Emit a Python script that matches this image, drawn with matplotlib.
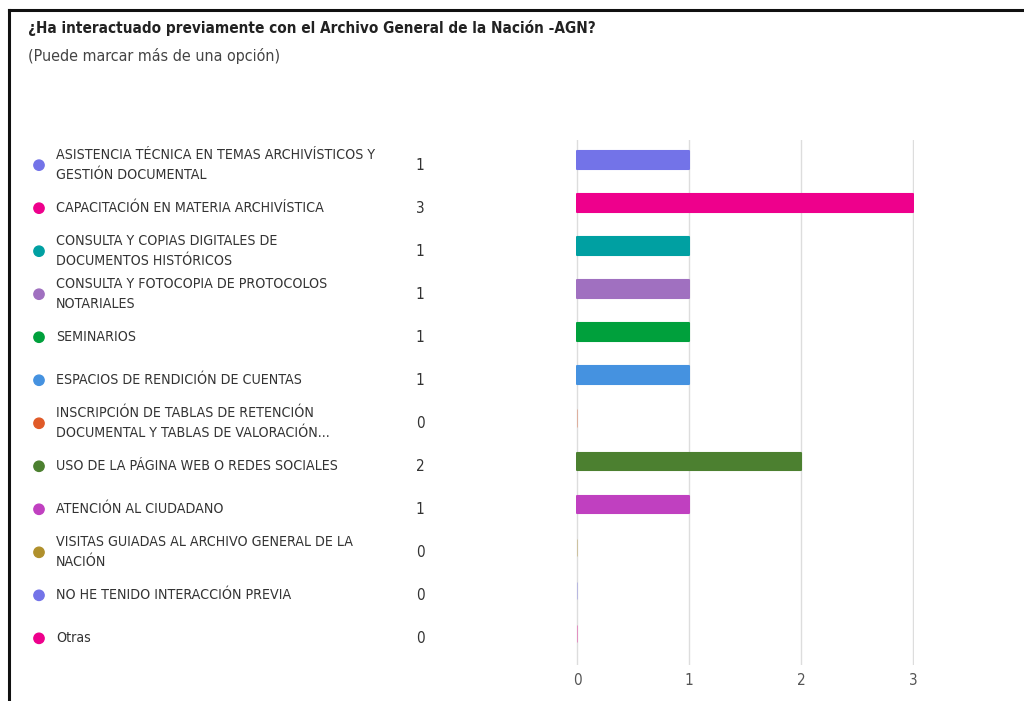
import numpy as np
import matplotlib
matplotlib.use("Agg")
import matplotlib.pyplot as plt
from matplotlib import font_manager
from matplotlib.transforms import blended_transform_factory

# data
labels = [
    "ASISTENCIA TÉCNICA EN TEMAS ARCHIVÍSTICOS Y\nGESTIÓN DOCUMENTAL",
    "CAPACITACIÓN EN MATERIA ARCHIVÍSTICA",
    "CONSULTA Y COPIAS DIGITALES DE\nDOCUMENTOS HISTÓRICOS",
    "CONSULTA Y FOTOCOPIA DE PROTOCOLOS\nNOTARIALES",
    "SEMINARIOS",
    "ESPACIOS DE RENDICIÓN DE CUENTAS",
    "INSCRIPCIÓN DE TABLAS DE RETENCIÓN\nDOCUMENTAL Y TABLAS DE VALORACIÓN...",
    "USO DE LA PÁGINA WEB O REDES SOCIALES",
    "ATENCIÓN AL CIUDADANO",
    "VISITAS GUIADAS AL ARCHIVO GENERAL DE LA\nNACIÓN",
    "NO HE TENIDO INTERACCIÓN PREVIA",
    "Otras",
]
counts = [1, 3, 1, 1, 1, 1, 0, 2, 1, 0, 0, 0]
colors = ["#7373e8", "#ee008c", "#00a0a2", "#a070c0", "#00a03c", "#4592e0",
          "#e05a28", "#4c8030", "#c040c0", "#b0902c", "#7373e8", "#ee008c"]
xticks = [0, 1, 2, 3]

title = "¿Ha interactuado previamente con el Archivo General de la Nación -AGN?"
subtitle = "(Puede marcar más de una opción)"

# look for a narrow/condensed face, the original is set in a tight UI font
for f in font_manager.findSystemFonts():
    n = f.lower()
    if "condensed" in n or "narrow" in n:
        try:
            font_manager.fontManager.addfont(f)
        except Exception:
            pass
plt.rcParams['font.family'] = ['DejaVu Sans']
plt.rcParams['font.stretch'] = 'condensed'

W, H = 1024, 701
fig = plt.figure(figsize=(W / 100, H / 100), dpi=100)

# frame lines (left and top)
fig.add_artist(plt.Line2D([8.5 / W, 8.5 / W], [0, 1 - 10 / H], color="#111111", lw=2.2))
fig.add_artist(plt.Line2D([8.5 / W, 1], [1 - 10 / H, 1 - 10 / H], color="#111111", lw=2.2))

fig.text(28 / W, 1 - 28 / H, title, fontsize=11, fontweight="bold", color="#222222", va="center")
fig.text(28 / W, 1 - 56 / H, subtitle, fontsize=11.5, color="#444444", va="center")

ax = fig.add_axes([575.9 / W, 1 - 665 / H, 338.2 / W, 525 / H])
rows = np.arange(len(counts))
bars = ax.barh(rows, counts, height=0.40, color=colors, edgecolor=colors,
               linewidth=1.5, zorder=3)
for b, v in zip(bars, counts):
    b.set_joinstyle("round")
    if v == 0:
        # empty options only leave a faint sliver at zero
        b.set_linewidth(0.7)
        b.set_alpha(0.35)
ax.set_xlim(-0.01, 3.01)
ax.set_ylim(11.74, -0.465)
ax.set_xticks(xticks)
ax.set_xticklabels([str(t) for t in xticks], fontsize=11, color="#555555")
ax.tick_params(axis="x", length=0, pad=6)
ax.set_yticks([])
ax.grid(axis="x", color="#dddddd", lw=1, zorder=0)
for s in ax.spines.values():
    s.set_visible(False)

# legend-like labels on the left
tr = blended_transform_factory(fig.transFigure, ax.transData)
off = 0.12
ax.scatter(np.full(len(rows), 39 / W), rows + off, s=55, c=colors, transform=tr, clip_on=False, zorder=4)
for i, (lab, v) in enumerate(zip(labels, counts)):
    ax.text(56 / W, i + off, lab, transform=tr, fontsize=10.2, color="#333333",
            va="center", ha="left", linespacing=1.55)
    ax.text(420 / W, i + off, str(v), transform=tr, fontsize=11, color="#333333",
            va="center", ha="center")

fig.savefig("out.png", dpi=100)
